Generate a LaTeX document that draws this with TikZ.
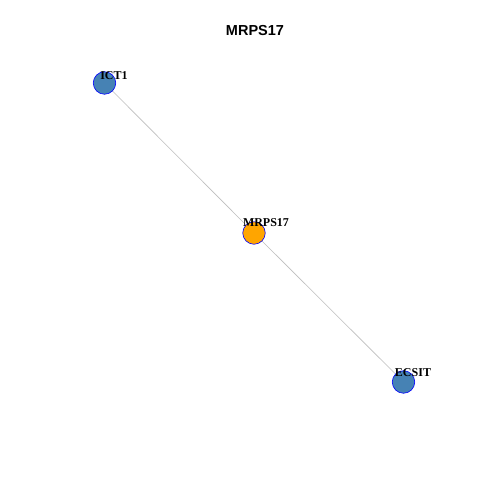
\documentclass[tikz,border=0pt]{standalone}
\usepackage{fontspec}
\setmainfont{Liberation Serif}
\newfontfamily\titlefont{Liberation Sans}
\definecolor{steel}{HTML}{4682B4}
\definecolor{orng}{HTML}{FFA500}
\definecolor{edgegray}{HTML}{BEBEBE}
\tikzset{
  vert/.style={circle, draw=blue, line width=0.6pt, minimum size=22.5pt, inner sep=0pt},
  lab/.style={font=\fontsize{12}{12}\selectfont\bfseries, inner sep=0pt, anchor=center},
  edge/.style={draw=edgegray, line width=0.6pt}
}
\begin{document}
\begin{tikzpicture}[x=1pt,y=1pt]
\useasboundingbox[fill=white] (0,0) rectangle (480,480);
\node[font=\titlefont\fontsize{14.5}{14.5}\selectfont\bfseries] (title) at (255,449) {MRPS17};
\coordinate (cI) at (104.5,397);
\coordinate (cM) at (254,247);
\coordinate (cE) at (403.5,98);
\draw[edge] (cI) -- (cM) -- (cE);
\node[vert, fill=steel] (ict1) at (cI) {};
\node[vert, fill=orng] (mrps17) at (cM) {};
\node[vert, fill=steel] (ecsit) at (cE) {};
\node[lab] (lict1) at (114,404.5) {ICT1};
\node[lab] (lmrps17) at (266,257) {MRPS17};
\node[lab] (lecsit) at (413,107) {ECSIT};
\end{tikzpicture}
\end{document}
